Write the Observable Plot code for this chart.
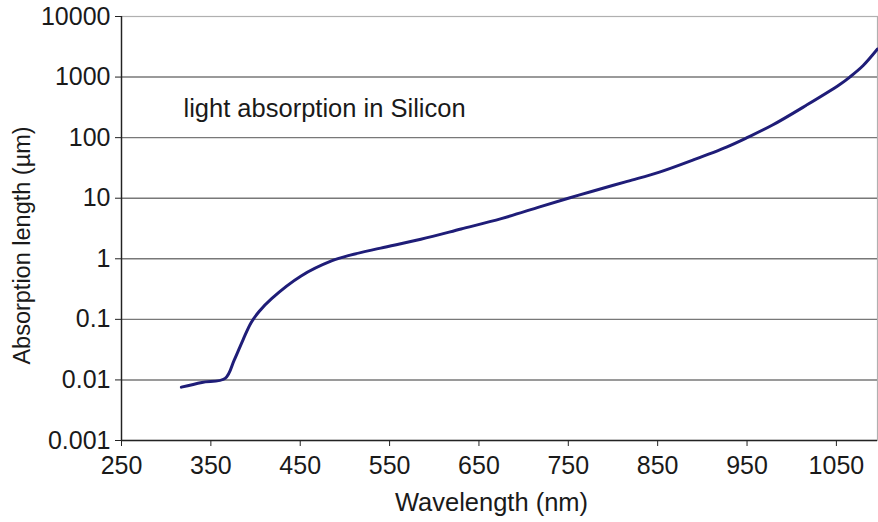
<!DOCTYPE html>
<html>
<head>
<meta charset="utf-8">
<script src="https://cdn.jsdelivr.net/npm/d3@7"></script>
<script src="https://cdn.jsdelivr.net/npm/@observablehq/plot@0.6"></script>
<style>
  html, body { margin: 0; padding: 0; background: #fff; }
  #chart svg { display: block; }
</style>
</head>
<body>
<div id="chart"></div>
<script>
// Absorption length of light in silicon versus wavelength
const wavelength = [317, 340, 366, 376, 386, 395, 404, 418, 451, 485, 506, 540, 585, 630, 675, 718, 750, 777, 816, 852, 890, 927, 950, 978, 1016, 1053, 1065, 1080, 1096];
const absorptionLength = [0.0076, 0.0091, 0.0106, 0.021, 0.046, 0.088, 0.135, 0.22, 0.52, 0.92, 1.15, 1.5, 2.1, 3.1, 4.6, 7.2, 10, 13, 19, 27, 43, 70, 100, 160, 340, 740, 1000, 1550, 2900];

const xTicks = [250, 350, 450, 550, 650, 750, 850, 950, 1050];
const yTicks = [0.001, 0.01, 0.1, 1, 10, 100, 1000, 10000];
const yTickLabels = ["0.001", "0.01", "0.1", "1", "10", "100", "1000", "10000"];
const gridValues = [0.01, 0.1, 1, 10, 100, 1000];

const xTitle = "Wavelength (nm)";
const yTitle = "Absorption length (\u00b5m)";
const note = "light absorption in Silicon";

const data = wavelength.map((w, i) => ({w, len: absorptionLength[i]}));
const yLabelOf = d => yTickLabels[yTicks.findIndex(t => Math.abs(Math.log10(t) - Math.log10(d)) < 1e-6)];

const chart = Plot.plot({
  width: 878,
  height: 522,
  marginLeft: 121,
  marginRight: 1,
  marginTop: 16,
  marginBottom: 82,
  style: {fontFamily: "Liberation Sans, Arial, sans-serif", fontSize: "25px", color: "#1a1a1a", background: "#fff"},
  x: {domain: [250, 1096]},
  y: {type: "log", domain: [0.001, 10000]},
  marks: [
    Plot.frame({stroke: "#b0b0b0", strokeWidth: 1.2}),
    Plot.ruleY(gridValues, {stroke: "#787878", strokeWidth: 1.4}),
    Plot.axisX({ticks: xTicks, tickFormat: d => String(d), tickSize: 6, tickPadding: 10, stroke: "#222", label: null}),
    Plot.axisY({ticks: yTicks, tickFormat: yLabelOf, tickSize: 6, tickPadding: 5, stroke: "#222", label: null}),
    Plot.ruleX([250], {stroke: "#222", strokeWidth: 1.4}),
    Plot.ruleY([0.001], {stroke: "#222", strokeWidth: 1.6}),
    Plot.line(data, {x: "w", y: "len", curve: "catmull-rom", stroke: "#1f1d78", strokeWidth: 3}),
    Plot.text([note], {frameAnchor: "top-left", textAnchor: "start", lineAnchor: "middle", dx: 62, dy: 92, fontSize: 25.5, fill: "#1a1a1a"}),
    Plot.text([xTitle], {frameAnchor: "bottom", textAnchor: "middle", lineAnchor: "middle", dx: -8, dy: 62, fontSize: 25.5, fill: "#1a1a1a"}),
    Plot.text([yTitle], {frameAnchor: "left", textAnchor: "middle", lineAnchor: "middle", rotate: -90, dx: -99, dy: 17, fontSize: 23.5, fill: "#1a1a1a"})
  ]
});

document.getElementById("chart").appendChild(chart);
</script>
</body>
</html>
